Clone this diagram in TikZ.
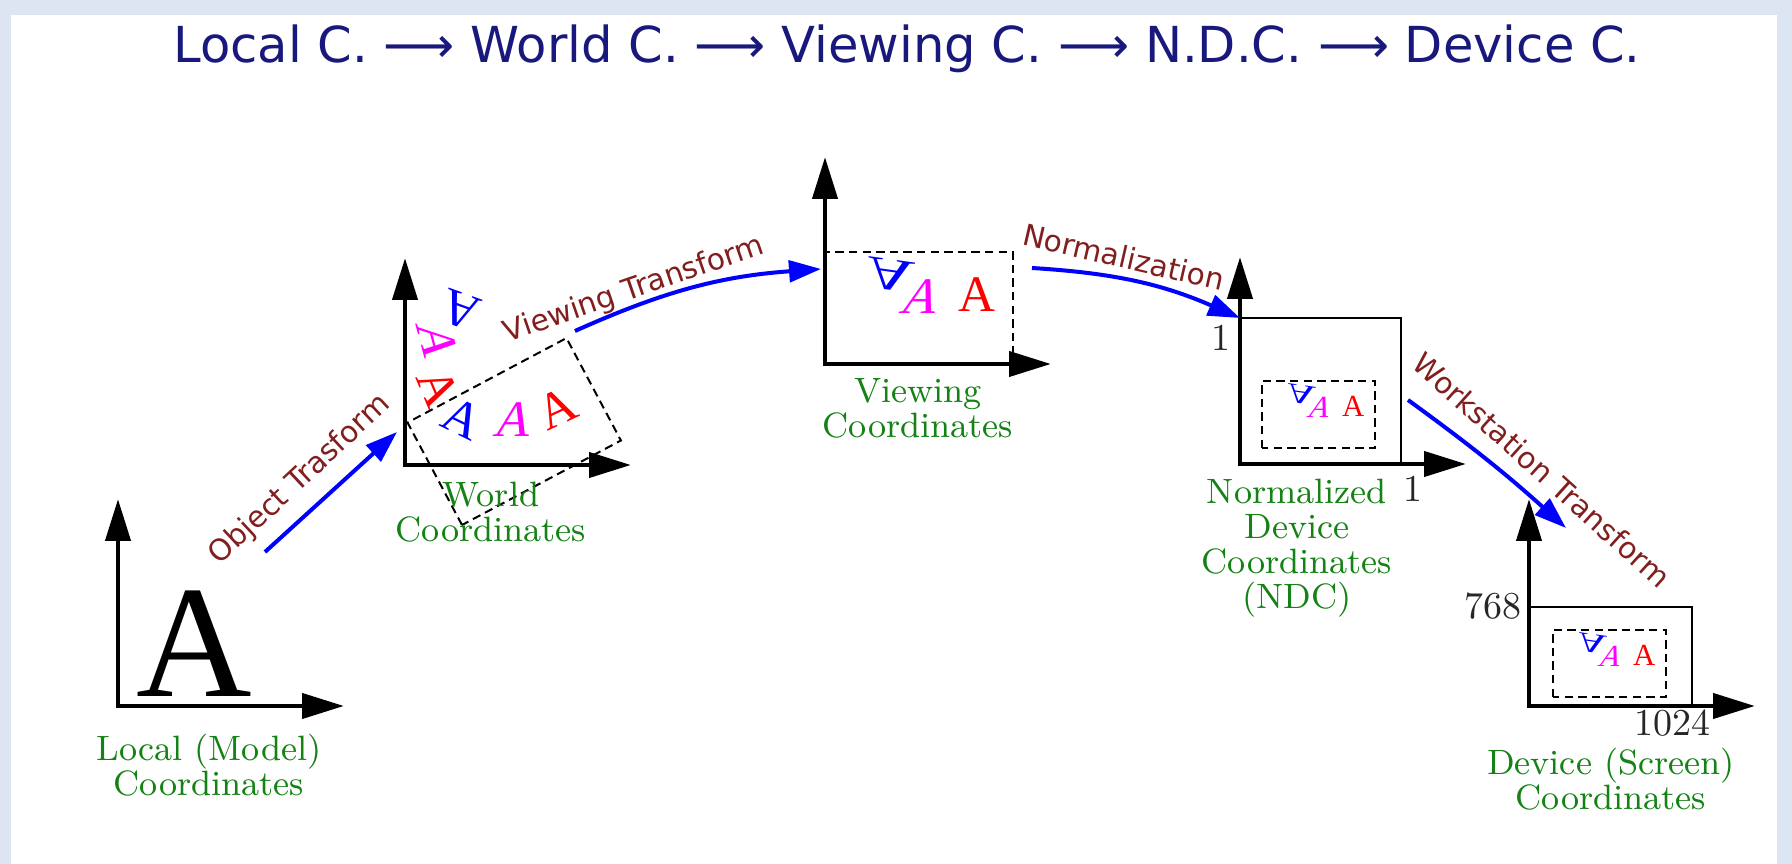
\documentclass[tikz,border=0pt]{standalone}
\usepackage{fontspec}
\newfontfamily\sansfont{DejaVu Sans}
\newfontfamily\timesfont{Liberation Serif}
\usepackage{tikz}
\usetikzlibrary{arrows.meta,calc}
\definecolor{navy}{RGB}{25,25,125}
\definecolor{labgreen}{RGB}{20,130,20}
\definecolor{trbrown}{RGB}{130,30,30}
\definecolor{pageblue}{RGB}{221,229,242}
\definecolor{mag}{RGB}{255,0,255}
\definecolor{pureblue}{RGB}{0,0,255}
\definecolor{purered}{RGB}{255,0,0}

\begin{document}
\begin{tikzpicture}[
  x=0.25pt,y=0.25pt,
  >={Triangle[length=10.5pt,width=6.2pt]},
  axis/.style={line width=1.2pt,<->},
  tr/.style={line width=1pt,draw=pureblue,-{Triangle[length=8pt,width=5.4pt]}},
  trlab/.style={text=trbrown,font=\sansfont\fontsize{7.4}{8}\selectfont,inner sep=0},
  cname/.style={text=labgreen,align=center,font=\fontsize{8.8}{8.75}\selectfont,inner sep=0,anchor=north},
  win/.style={dash pattern=on 2.1pt off 1.3pt,line width=0.5pt},
  boxline/.style={line width=0.45pt},
  lett/.style={inner sep=0,font=\timesfont\fontsize{12.8}{12.8}\selectfont,transform shape},
  num/.style={font=\fontsize{9.5}{9.5}\selectfont,inner sep=0,text=black!85}
]
\fill[pageblue] (0,0) rectangle (1792,-864);
\fill[white] (11,-15) rectangle (1777,-864);
\useasboundingbox (0,0) rectangle (1792,-864);

\node[anchor=base,text=navy,font=\sansfont\fontsize{12.4}{14}\selectfont] (title) at (907,-63)
  {Local C. ⟶ World C. ⟶ Viewing C. ⟶ N.D.C. ⟶ Device C.};

\coordinate (local) at (118,-706);
\coordinate (world) at (405,-465);
\coordinate (view) at (825,-364);
\coordinate (ndc) at (1240,-464);
\coordinate (dev) at (1529,-706);

% world window and the letters
\begin{scope}[shift={(462,-525)},rotate=28]
  \draw[win] (0,0) rectangle (180,116);
\end{scope}
\node[lett,text=pureblue,rotate=-26] at (463,-418) {A};
\node[lett,text=mag,xslant=0.25] at (515,-420) {A};
\node[lett,text=purered,rotate=25] at (557,-408) {A};
\node[lett,text=purered,rotate=-67] at (438,-388) {A};
\node[lett,text=mag,rotate=-75,xslant=0.3] at (438,-342) {A};
\node[lett,text=pureblue,rotate=160] at (460,-310) {A};

\foreach \ox/\oy/\s in {825/364/1,1262/448/0.6,1553/697/0.6}{
  \begin{scope}[shift={(\ox,-\oy)},scale=\s]
    \draw[win] (0,0) rectangle (188,112);
    \node[lett,text=pureblue,rotate=-8,xscale=1.3,yscale=-0.9] at (65,89) {A};
    \node[lett,text=mag,xslant=0.35] at (98,67) {A};
    \node[lett,text=purered] at (152,69) {A};
  \end{scope}
}

\foreach \c in {local,world,view,ndc,dev}
  \draw[axis] ($(\c)+(0,207)$) -- (\c) -- ++(226,0);

\draw[boxline] (1240,-318) -| (1401,-464);
\draw[boxline] (1529,-607) -| (1692,-706);

\node[inner sep=0,anchor=base,font=\timesfont\fontsize{40}{40}\selectfont] (bigA) at (194,-697) {A};

\coordinate (obj-s) at (265,-552);
\coordinate (obj-e) at (397,-432);
\coordinate (view-s) at (575,-331);
\coordinate (view-e) at (821,-269);
\coordinate (norm-s) at (1032,-268);
\coordinate (norm-e) at (1240,-318);
\coordinate (ws-s) at (1408,-400);
\coordinate (ws-e) at (1566,-528);
\draw[tr] (obj-s) -- (obj-e);
\draw[tr] (view-s) to[bend left=10] (view-e);
\draw[tr] (norm-s) to[bend left=10] (norm-e);
\draw[tr] (ws-s) to[bend left=3] (ws-e);

\node[trlab,rotate=43] (obj-lab) at (300,-480) {Object Trasform};
\node[trlab,rotate=19] (view-tlab) at (634,-290) {Viewing Transform};
\node[trlab,rotate=-13] (norm-lab) at (1124,-257) {Normalization};
\node[trlab,rotate=-42] (ws-lab) at (1542,-470) {Workstation Transform};

\node[num] (one-y) at (1221,-338) {1};
\node[num] (one-x) at (1413,-489) {1};
\node[num] (res-y) at (1493,-606) {768};
\node[num] (res-x) at (1672,-723) {1024};

\node[cname] (local-lab) at (209,-733) {Local (Model)\\Coordinates};
\node[cname] (world-lab) at (491,-481) {World\\Coordinates};
\node[cname] (view-lab) at (918,-378) {Viewing\\Coordinates};
\node[cname] (ndc-lab) at (1297,-478) {Normalized\\Device\\Coordinates\\(NDC)};
\node[cname] (dev-lab) at (1611,-747) {Device (Screen)\\Coordinates};
\end{tikzpicture}
\end{document}
